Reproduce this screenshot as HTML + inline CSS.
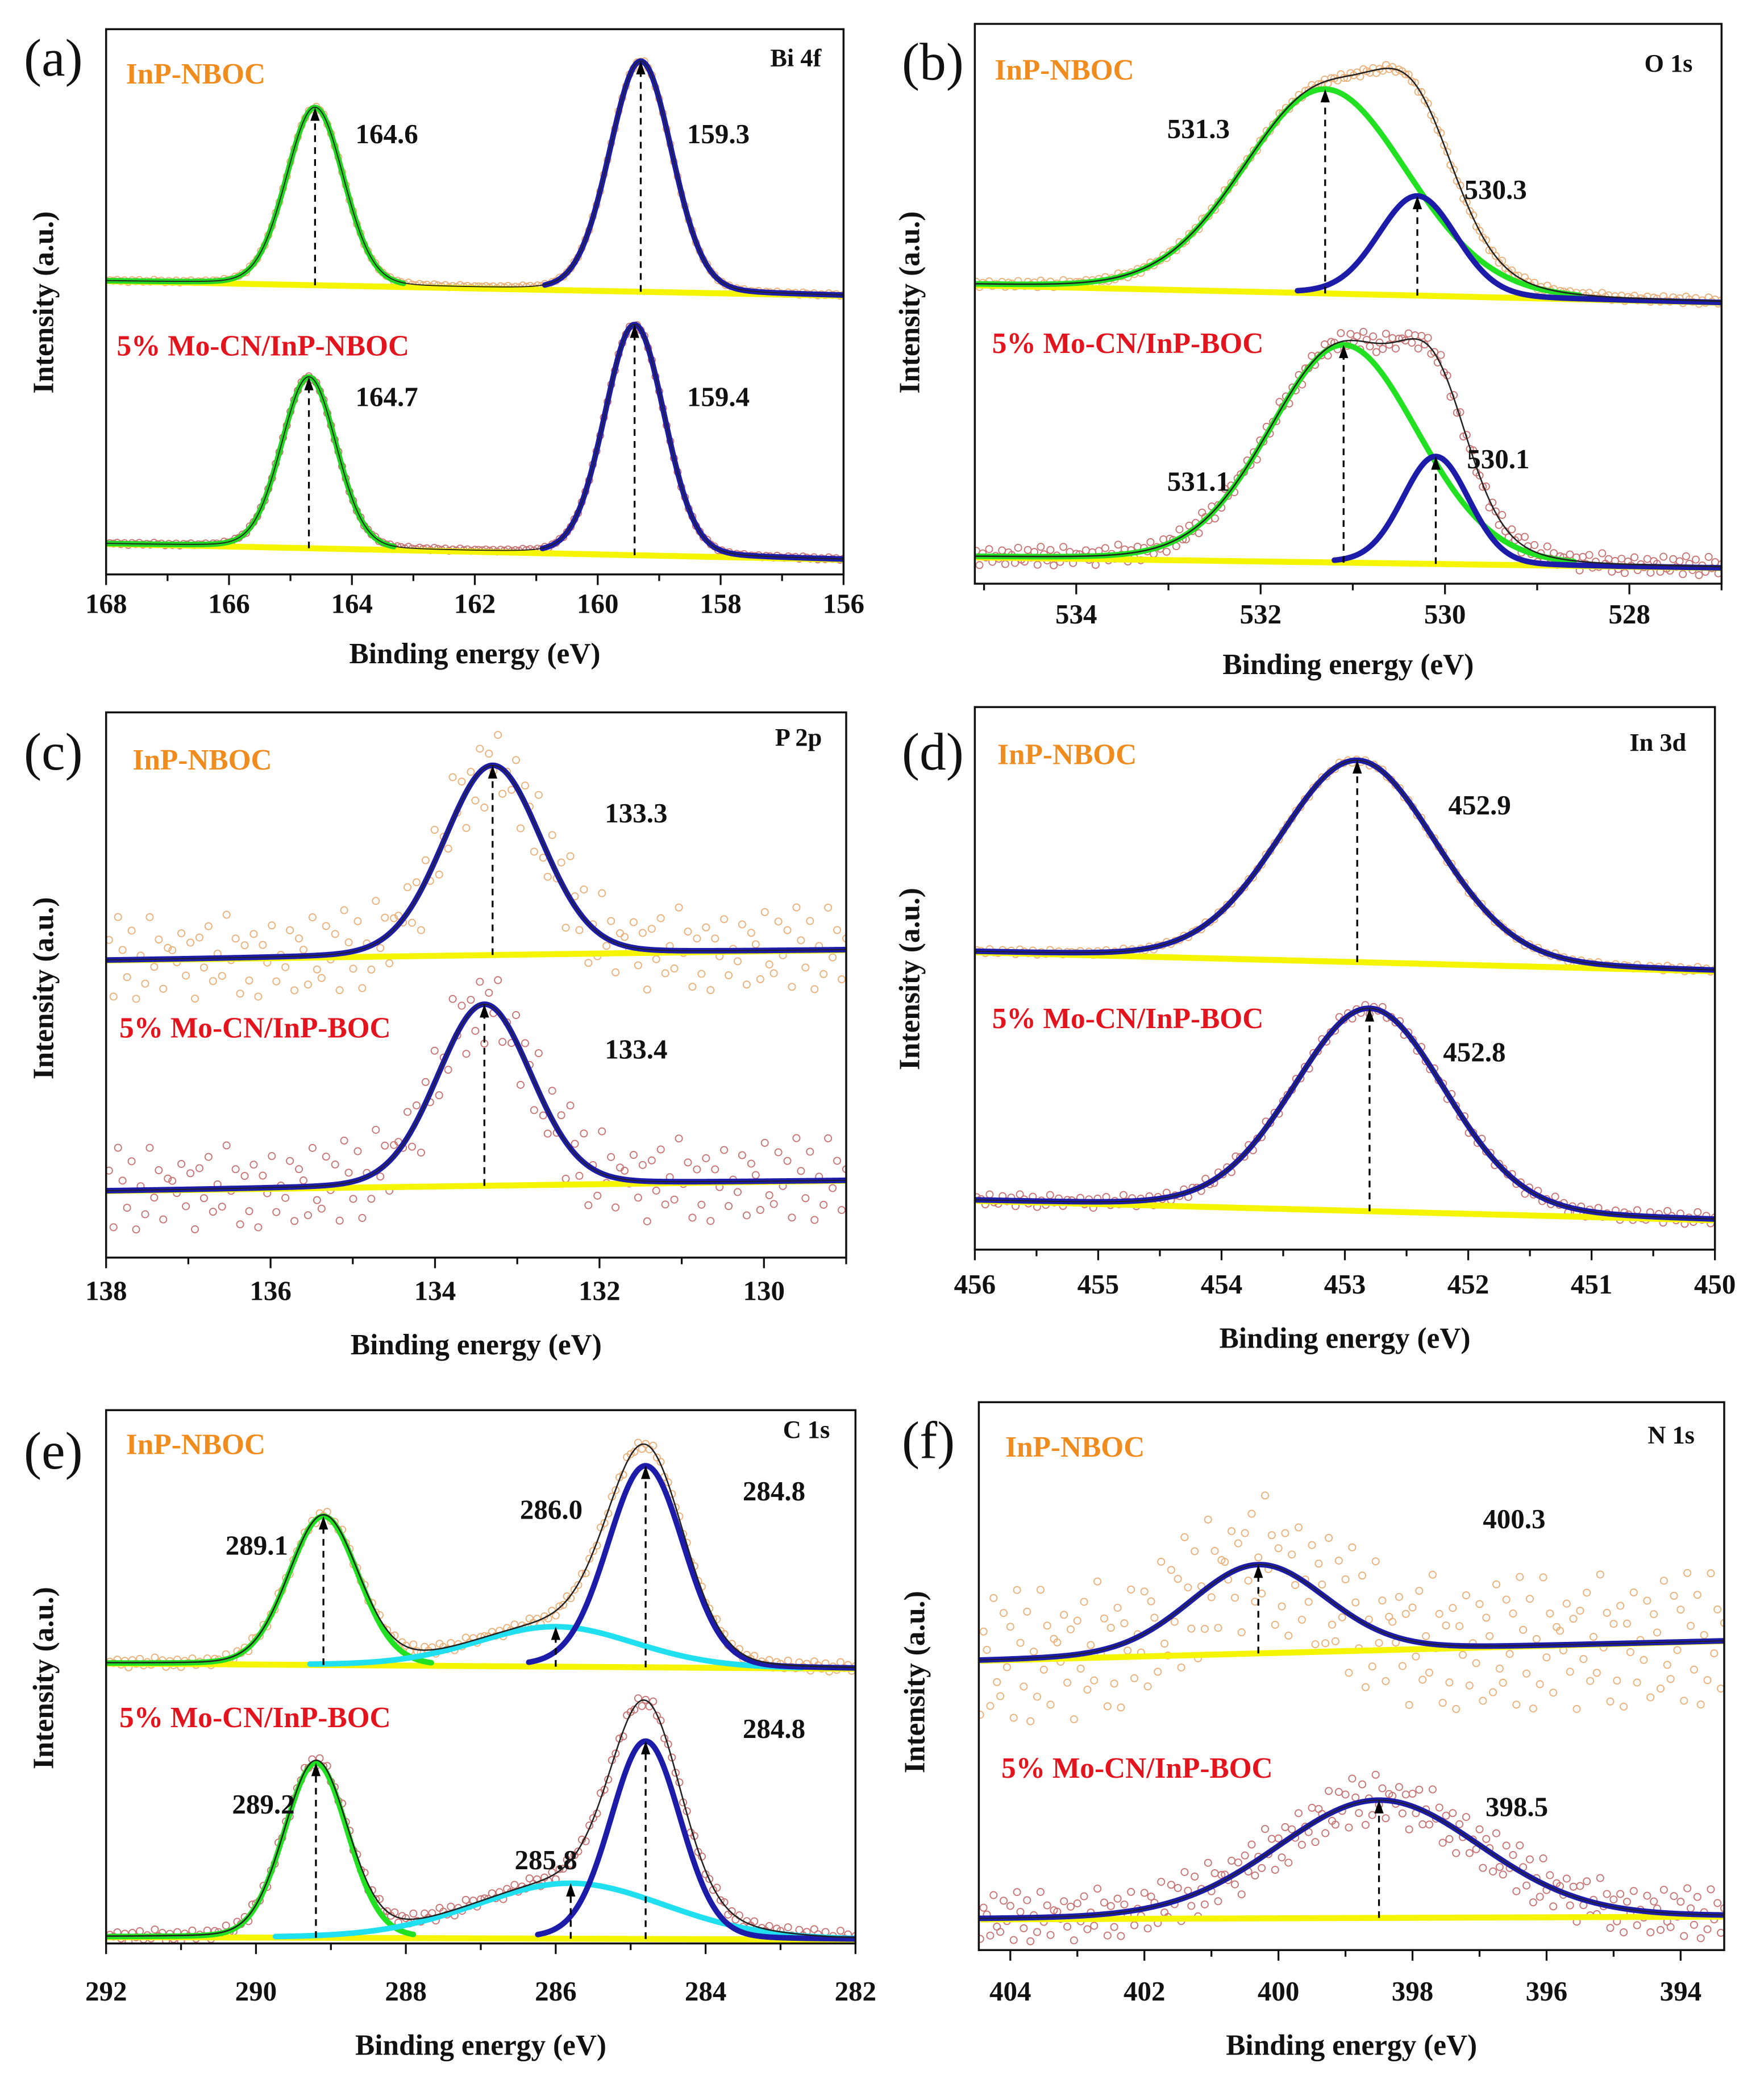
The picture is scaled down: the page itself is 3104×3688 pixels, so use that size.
<!DOCTYPE html>
<html><head><meta charset="utf-8"><style>
html,body{margin:0;padding:0;background:#fff}
svg{display:block}
text{font-family:"Liberation Serif","DejaVu Serif",serif}
</style></head><body>
<svg id="fig" xmlns="http://www.w3.org/2000/svg" width="3104" height="3688" viewBox="0 0 1330 1580" preserveAspectRatio="none"></svg>
<script>
// ---------- data ----------
const NOISE=[0.3,-0.8,0.5,-0.2,0.9,-0.6,0.1,-0.9,0.7,-0.4,0.2,0.8,-0.7,0.4,-0.1,0.6,-0.5,-0.3,0.95,-0.85,0.15,0.45,-0.65,0.75,-0.25,0.05,-0.55,0.85,-0.15,0.35,-0.95,0.65,-0.45,0.25,-0.75,0.55,-0.05,0.9,-0.35,0.1,-0.6,0.7,-0.2,0.4,-0.8,0.3,-0.5,0.6,-0.1,0.2];

const aTicks=[168,166,164,162,160,158,156];
const aCenters=[[164.6,159.3],[164.7,159.4]];
const aAmps=[[32.6,42.3],[31.4,42.3]];
const aWidths=[[1.1,1.2],[1.05,1.15]];
const aBase=[[53.8,51.1],[5.6,2.7]];

const bTicks=[534,532,530,528];
const bCenters=[[531.3,530.3],[531.1,530.1]];
const bAmps=[[36.5,17.8],[38.9,19.2]];
const bWidths=[[2.1,1.0],[1.9,0.85]];
const bBase=[[53.3,50.2],[4.7,2.8]];

const cTicks=[138,136,134,132,130];
const cCenters=[[133.3],[133.4]];
const cAmps=[[34.8],[33.3]];
const cWidths=[[1.4],[1.35]];
const cBase=[[54.5,56.4],[12.2,14.1]];

const dTicks=[456,455,454,453,452,451,450];
const dCenters=[[452.9],[452.8]];
const dAmps=[[37.2],[37.4]];
const dWidths=[[1.5],[1.45]];
const dBase=[[54.8,51.3],[9.0,5.4]];

const eTicks=[292,290,288,286,284,282];
const eCenters=[[289.1,286.0,284.8],[289.2,285.8,284.8]];
const eAmps=[[27.9,7.5,37.8],[32.8,10.4,37.1]];
const eWidths=[[1.1,2.5,1.2],[1.0,3.0,1.1]];
const eBase=[[52.5,51.5],[1.2,0.7]];

const fTicks=[404,402,400,398,396,394];
const fCenters=[[400.3],[398.5]];
const fAmps=[[16.2],[21.5]];
const fWidths=[[2.4],[3.6]];
const fBase=[[52.8,56.4],[5.6,6.1]];

// ---------- layout ----------
const panels=[
 {id:'a',L:80,R:636,T:22,B:433,xmin:168,xmax:156,minor:1,ticks:aTicks,c:aCenters,a:aAmps,w:aWidths,base:aBase,
  cols:[['#22d622','#1c1ca8'],['#22d622','#1c1ca8']],noise:[0.3,0.3],step:0.06,env:false,
  core:'Bi 4f',coreX:600,coreY:50,s1:[95,63],s2:[88,268],
  labels:[[[268,108],[518,108]],[[268,306],[518,306]]],tickY:462,titleY:500,ytX:40,ytY:228,letter:[18,57]},
 {id:'b',L:735,R:1298,T:18,B:440,xmin:535.1,xmax:527,minor:1,ticks:bTicks,c:bCenters,a:bAmps,w:bWidths,base:bBase,
  cols:[['#22e022','#1c1ca8'],['#22e022','#1c1ca8']],noise:[0.8,2.2],step:0.035,env:true,
  core:'O 1s',coreX:1258,coreY:54,s1:[750,60],s2:[748,266],
  labels:[[[880,104],[1104,150]],[[880,370],[1106,353]]],tickY:470,titleY:508,ytX:693,ytY:228,letter:[680,60]},
 {id:'c',L:80,R:638,T:537,B:948,xmin:138,xmax:129,minor:1,ticks:cTicks,c:cCenters,a:cAmps,w:cWidths,base:cBase,
  cols:[['#1c1ca8'],['#1c1ca8']],noise:[10,10],step:0.055,env:false,
  core:'P 2p',coreX:602,coreY:562,s1:[100,580],s2:[90,782],
  labels:[[[456,620]],[[456,798]]],tickY:980,titleY:1021,ytX:40,ytY:745,letter:[18,580]},
 {id:'d',L:735,R:1293,T:533,B:942,xmin:456,xmax:450,minor:0.5,ticks:dTicks,c:dCenters,a:dAmps,w:dWidths,base:dBase,
  cols:[['#1c1ca8'],['#1c1ca8']],noise:[0.6,1.5],step:0.035,env:false,
  core:'In 3d',coreX:1250,coreY:566,s1:[752,576],s2:[748,775],
  labels:[[[1092,614]],[[1088,800]]],tickY:975,titleY:1016,ytX:693,ytY:738,letter:[680,580]},
 {id:'e',L:80,R:645,T:1063,B:1465,xmin:292,xmax:282,minor:1,ticks:eTicks,c:eCenters,a:eAmps,w:eWidths,base:eBase,
  cols:[['#22e022','#20e0f0','#1c1ca8'],['#22e022','#20e0f0','#1c1ca8']],noise:[1.2,1.5],step:0.05,env:true,
  core:'C 1s',coreX:608,coreY:1084,s1:[95,1096],s2:[90,1302],
  labels:[[[170,1172],[392,1145],[560,1131]],[[175,1367],[388,1409],[560,1310]]],tickY:1508,titleY:1549,ytX:40,ytY:1265,letter:[18,1107]},
 {id:'f',L:738,R:1300,T:1057,B:1470,xmin:404.47,xmax:393.35,minor:1,ticks:fTicks,c:fCenters,a:fAmps,w:fWidths,base:fBase,
  cols:[['#1c1ca8'],['#1c1ca8']],noise:[16,6],step:0.05,env:false,
  core:'N 1s',coreX:1260,coreY:1088,s1:[758,1098],s2:[755,1340],
  labels:[[[1118,1152]],[[1120,1369]]],tickY:1508,titleY:1549,ytX:697,ytY:1268,letter:[680,1099]}
];

const NS='http://www.w3.org/2000/svg';
const svg=document.getElementById('fig');
const FF='"Liberation Serif","DejaVu Serif",serif';
function mk(tag,attrs,parent,txt){const e=document.createElementNS(NS,tag);for(const k in attrs)e.setAttribute(k,attrs[k]);if(tag==='text')e.setAttribute('font-family',FF);if(txt!==undefined)e.textContent=txt;(parent||svg).appendChild(e);return e;}

function peak(x,c,a,w){const d=(x-c)/(w/2);return a*(0.9*Math.exp(-Math.LN2*d*d)+0.1/(1+d*d));}

panels.forEach(p=>{
  const g=mk('g',{});
  
  
  const X=v=>p.L+(v-p.xmin)/(p.xmax-p.xmin)*(p.R-p.L);
  const Y=v=>p.B-v/100*(p.B-p.T);
  const lo=Math.min(p.xmin,p.xmax),hi=Math.max(p.xmin,p.xmax);
  const clip='clip'+p.id;
  const cp=mk('clipPath',{id:clip},g);mk('rect',{x:p.L,y:p.T,width:p.R-p.L,height:p.B-p.T},cp);
  const plot=mk('g',{'clip-path':'url(#'+clip+')'},g);
  
  
  for(let s=0;s<2;s++){
    const base=x=>p.base[s][0]+(p.base[s][1]-p.base[s][0])*(x-p.xmin)/(p.xmax-p.xmin);
    const env=x=>base(x)+p.c[s].reduce((t,c,i)=>t+peak(x,c,p.a[s][i],p.w[s][i]),0);
    const pts=mk('g',{fill:'none',stroke:s?'#c87474':'#eab07a','stroke-width':0.8},plot);
    
    
    let k=0;
    for(let x=lo;x<=hi;x+=p.step,k++){
      const n=NOISE[k%NOISE.length]*p.noise[s]*(0.6+0.4*Math.abs(NOISE[(k*7+3)%NOISE.length]));
      const c=mk('circle',{cx:X(x),cy:Y(env(x)+n),r:2.6},pts);
      
      
    }
    let d='';for(let x=lo;x<=hi+1e-9;x+=0.05)d+=(d?'L':'M')+X(x).toFixed(2)+','+Y(base(x)).toFixed(2);
    const bl=mk('path',{d:d,fill:'none',stroke:'#f5f500','stroke-width':4.5},plot);
    
    
    const cmax=Math.max(...p.c[s]),cmin=Math.min(...p.c[s]);
    p.c[s].forEach((c,i)=>{
      let dd='';
      for(let x=lo;x<=hi+1e-9;x+=0.02){
        const v=peak(x,c,p.a[s][i],p.w[s][i]);
        const outer=(c===cmax&&x>=c)||(c===cmin&&x<=c);
        if(!outer&&v<0.02*p.a[s][i])continue;
        dd+=(dd?'L':'M')+X(x).toFixed(2)+','+Y(base(x)+v).toFixed(2);
      }
      const cl=mk('path',{d:dd,fill:'none',stroke:p.cols[s][i],'stroke-width':4.2,'stroke-linejoin':'round','stroke-linecap':'round'},plot);
      
      
    });
    let de='';for(let x=lo;x<=hi+1e-9;x+=0.02)de+=(de?'L':'M')+X(x).toFixed(2)+','+Y(env(x)).toFixed(2);
    const el=mk('path',{d:de,fill:'none',stroke:'#222','stroke-width':p.env?1.1:0.8},plot);
    
    
    p.c[s].forEach((c,i)=>{
      const xp=X(c),y0=Y(base(c)),y1=Y(base(c)+peak(c,c,p.a[s][i],p.w[s][i]));
      const ln=mk('line',{x1:xp,y1:y0,x2:xp,y2:y1+8,stroke:'#000','stroke-width':1.4,'stroke-dasharray':'5,4'},g);
      
      
      const ah=mk('path',{d:`M${xp-3.5},${y1+10}L${xp},${y1}L${xp+3.5},${y1+10}Z`,fill:'#000'},g);
      
      
      const lb=p.labels[s][i];
      const t=mk('text',{x:lb[0],y:lb[1],'font-size':21,'font-weight':'bold',fill:'#111'},g,c.toFixed(1));
      
      
    });
  }
  const fr=mk('rect',{x:p.L,y:p.T,width:p.R-p.L,height:p.B-p.T,fill:'none',stroke:'#111','stroke-width':1.5},g);
  
  
  const mn=Math.ceil(lo/p.minor)*p.minor;
  for(let v=mn;v<=hi+1e-9;v+=p.minor){
    const major=p.ticks.some(t=>Math.abs(t-v)<1e-6);
    const tk=mk('line',{x1:X(v),y1:p.B,x2:X(v),y2:p.B+(major?8:5),stroke:'#111','stroke-width':1.4},g);
    
    
  }
  p.ticks.forEach(v=>{
    const t=mk('text',{x:X(v),y:p.tickY,'font-size':21,'font-weight':'bold','text-anchor':'middle',fill:'#111'},g,String(v));
    
    
  });
  const xt=mk('text',{x:(p.L+p.R)/2,y:p.titleY,'font-size':22,'font-weight':'bold','text-anchor':'middle',fill:'#111'},g,'Binding energy (eV)');
  
  
  const yt=mk('text',{x:p.ytX,y:p.ytY,'font-size':22,'font-weight':'bold','text-anchor':'middle',fill:'#111',transform:`rotate(-90 ${p.ytX} ${p.ytY})`},g,'Intensity (a.u.)');
  
  
  const lt=mk('text',{x:p.letter[0],y:p.letter[1],'font-size':40,fill:'#111'},g,'('+p.id+')');
  
  
  const ct=mk('text',{x:p.coreX,y:p.coreY,'font-size':19,'font-weight':'bold','text-anchor':'middle',fill:'#111'},g,p.core);
  
  
  const s1=mk('text',{x:p.s1[0],y:p.s1[1],'font-size':22,'font-weight':'bold',fill:'#f08c1e'},g,'InP-NBOC');
  
  
  const s2=mk('text',{x:p.s2[0],y:p.s2[1],'font-size':22,'font-weight':'bold',fill:'#e4141e'},g,p.id==='a'?'5% Mo-CN/InP-NBOC':'5% Mo-CN/InP-BOC');
  
  
});
</script>
</body></html>
